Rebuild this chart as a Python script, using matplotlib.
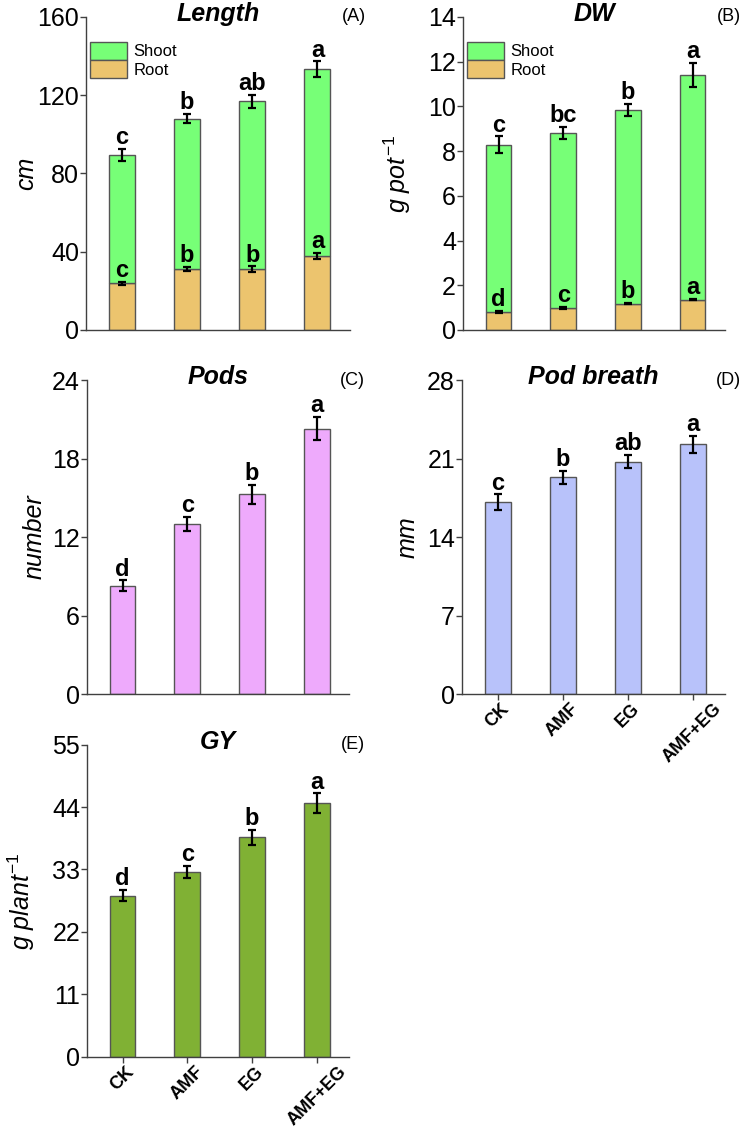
import matplotlib
matplotlib.use("Agg")
import matplotlib.pyplot as plt
import numpy as np

plt.rcParams['font.family'] = ['Liberation Sans', 'DejaVu Sans']
plt.rcParams['mathtext.fontset'] = 'custom'
plt.rcParams['mathtext.rm'] = 'Liberation Sans'
plt.rcParams['mathtext.it'] = 'Liberation Sans:italic'

groups = ['CK', 'AMF', 'EG', 'AMF+EG']

# (A) Length, cm
len_root = [23.8, 31.3, 31.0, 38.0]
len_root_err = [0.9, 1.0, 1.5, 1.5]
len_shoot = [65.6, 76.8, 85.8, 95.3]
len_total_err = [3.0, 2.5, 3.5, 4.0]
len_root_lab = ['c', 'b', 'b', 'a']
len_total_lab = ['c', 'b', 'ab', 'a']

# (B) DW, g pot-1
dw_root = [0.82, 0.98, 1.18, 1.36]
dw_root_err = [0.04, 0.04, 0.04, 0.04]
dw_shoot = [7.46, 7.82, 8.68, 10.06]
dw_total_err = [0.38, 0.28, 0.27, 0.53]
dw_root_lab = ['d', 'c', 'b', 'a']
dw_total_lab = ['c', 'bc', 'b', 'a']

# (C) Pods, number
pods = [8.28, 12.98, 15.26, 20.29]
pods_err = [0.4, 0.55, 0.7, 0.9]
pods_lab = ['d', 'c', 'b', 'a']

# (D) Pod breath, mm
breath = [17.1, 19.33, 20.72, 22.27]
breath_err = [0.7, 0.6, 0.6, 0.75]
breath_lab = ['c', 'b', 'ab', 'a']

# (E) GY, g plant-1
gy = [28.37, 32.56, 38.66, 44.7]
gy_err = [1.0, 1.1, 1.3, 1.7]
gy_lab = ['d', 'c', 'b', 'a']

SHOOT = '#77ff77'
ROOT = '#ecc46e'
EDGE = '#555555'
W = 0.4

fig = plt.figure(figsize=(7.44, 11.32), dpi=100)
x = np.arange(len(groups))


def style(ax, ymax, step, title, tag, ylabel, labx, xlabels=False):
    ax.set_xlim(-0.55, 3.5)
    ax.set_ylim(0, ymax)
    ax.set_yticks(np.arange(0, ymax + 0.01, step))
    for s in ['top', 'right']:
        ax.spines[s].set_visible(False)
    for s in ['left', 'bottom']:
        ax.spines[s].set_color('#404040')
        ax.spines[s].set_linewidth(1.0)
    ax.tick_params(axis='y', direction='out', length=4, width=1,
                   labelsize=18, pad=1, color='#404040')
    ax.set_xticks(x)
    if xlabels:
        ax.set_xticklabels(groups, rotation=45, ha='center', va='top',
                           fontsize=13, fontweight='bold')
        ax.tick_params(axis='x', direction='out', length=4, width=1,
                       color='#404040', pad=0.5)
    else:
        ax.tick_params(axis='x', length=0, labelbottom=False)
    ax.text(0.5, 1.01, title, transform=ax.transAxes, ha='center',
            va='center', fontsize=18, fontweight='bold', style='italic')
    ax.text(1.06, 1.0, tag, transform=ax.transAxes, ha='right',
            va='center', fontsize=13)
    ax.set_ylabel(ylabel, fontsize=18, style='italic')
    ax.yaxis.set_label_coords(labx, 0.5)


def letters(ax, xs, tops, labs):
    for xi, t, l in zip(xs, tops, labs):
        ax.annotate(l, (xi, t), xytext=(0, 3.5), textcoords='offset points',
                    ha='center', va='baseline', fontsize=17, fontweight='bold')


ebar = dict(fmt='none', ecolor='black', elinewidth=1.6, capsize=3, capthick=1.6)


def stacked(ax, root, root_err, shoot, tot_err, root_lab, tot_lab):
    ax.bar(x, root, W, color=ROOT, edgecolor=EDGE, linewidth=1, label='Root')
    ax.bar(x, shoot, W, bottom=root, color=SHOOT, edgecolor=EDGE,
           linewidth=1, label='Shoot')
    total = np.array(root) + np.array(shoot)
    ax.errorbar(x, root, yerr=root_err, **ebar)
    ax.errorbar(x, total, yerr=tot_err, **ebar)
    letters(ax, x, np.array(root) + np.array(root_err), root_lab)
    letters(ax, x, total + np.array(tot_err), tot_lab)
    h, l = ax.get_legend_handles_labels()
    ax.legend(h[::-1], l[::-1], loc='upper left', bbox_to_anchor=(0.015, 0.92),
              frameon=False, fontsize=12, handlelength=2.2, handleheight=1.25,
              labelspacing=0.05, handletextpad=0.4, borderpad=0, borderaxespad=0)


def single(ax, vals, errs, labs, color):
    ax.bar(x, vals, W, color=color, edgecolor=EDGE, linewidth=1)
    ax.errorbar(x, vals, yerr=errs, **ebar)
    letters(ax, x, np.array(vals) + np.array(errs), labs)


axA = fig.add_axes([0.1156, 0.7085, 0.3548, 0.2765])
stacked(axA, len_root, len_root_err, len_shoot, len_total_err,
        len_root_lab, len_total_lab)
style(axA, 160, 40, 'Length', '(A)', 'cm', -0.182)

axB = fig.add_axes([0.6223, 0.7085, 0.352, 0.2765])
stacked(axB, dw_root, dw_root_err, dw_shoot, dw_total_err,
        dw_root_lab, dw_total_lab)
style(axB, 14, 2, 'DW', '(B)', r'$g\ pot^{-1}$', -0.19)

axC = fig.add_axes([0.1169, 0.3869, 0.3522, 0.2774])
single(axC, pods, pods_err, pods_lab, '#eeaafc')
style(axC, 24, 6, 'Pods', '(C)', 'number', -0.153)

axD = fig.add_axes([0.621, 0.3869, 0.3535, 0.2774])
single(axD, breath, breath_err, breath_lab, '#b8c2fa')
style(axD, 28, 7, 'Pod breath', '(D)', 'mm', -0.163, xlabels=True)

axE = fig.add_axes([0.1169, 0.0665, 0.3522, 0.2757])
single(axE, gy, gy_err, gy_lab, '#80b134')
style(axE, 55, 11, 'GY', '(E)', r'$g\ plant^{-1}$', -0.19, xlabels=True)

fig.savefig('out.png', dpi=100)
